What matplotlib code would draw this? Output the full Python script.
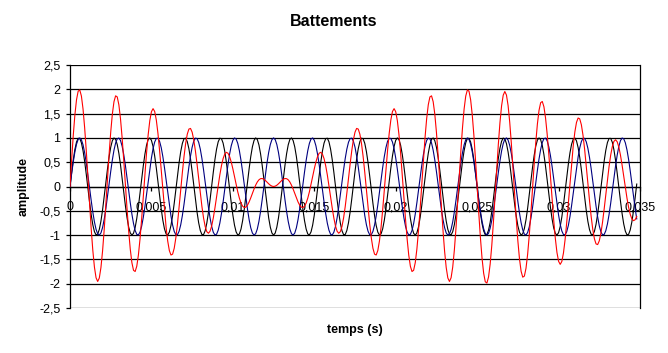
import numpy as np
import matplotlib
matplotlib.use('Agg')
import matplotlib.pyplot as plt
from matplotlib.ticker import FuncFormatter, MultipleLocator

plt.rcParams['font.family'] = ['Liberation Sans', 'DejaVu Sans']

# Signal parameters (two sines and their sum -> beats)
f_noir = 460.0     # Hz, black curve
f_bleu = 420.0     # Hz, blue curve
pas = 0.0001       # sampling step (s)
t_fin = 0.0348     # last sample (s)

x_ticks = [0, 0.005, 0.01, 0.015, 0.02, 0.025, 0.03, 0.035]
x_labels = ['0', '0,005', '0,01', '0,015', '0,02', '0,025', '0,03', '0,035']

t = np.arange(0, t_fin + pas / 2, pas)
y_noir = np.sin(2 * np.pi * f_noir * t)
y_bleu = np.sin(2 * np.pi * f_bleu * t)
y_somme = y_noir + y_bleu

W, H = 668, 353
fig = plt.figure(figsize=(W / 100, H / 100), dpi=100)
ax = fig.add_axes([70 / W, 1 - 308 / H, 570 / W, 243 / H])

ax.plot(t, y_noir, color='black', lw=0.8, zorder=3)
ax.plot(t, y_bleu, color='#000080', lw=0.8, zorder=3)
ax.plot(t, y_somme, color='#ff0000', lw=0.8, zorder=4)

ax.set_xlim(0, 0.035)
ax.set_ylim(-2.5, 2.5)
ax.yaxis.set_major_locator(MultipleLocator(0.5))
ax.yaxis.set_major_formatter(FuncFormatter(lambda v, p: ('%g' % v).replace('.', ',')))
ax.set_xticks(x_ticks)
ax.set_xticklabels(x_labels)

ax.grid(axis='y', color='black', lw=0.9)
ax.set_axisbelow(True)

for s in ['top', 'bottom']:
    ax.spines[s].set_visible(False)
ax.spines['left'].set_linewidth(0.9)
ax.spines['right'].set_linewidth(0.9)

ax.tick_params(axis='y', direction='out', length=3, width=0.9, pad=4, labelsize=9)
ax.tick_params(axis='x', direction='out', length=3, width=0.9, pad=7.5, labelsize=9)
# x axis crosses at y = 0, labels drawn along it
ax.spines['bottom'].set_visible(True)
ax.spines['bottom'].set_position(('data', 0))
ax.spines['bottom'].set_linewidth(0.9)

fig.text(0.5, 1 - 22 / H, 'Battements', ha='center', va='center',
         fontsize=11.5, fontweight='bold')
fig.text(355 / W, 1 - 330 / H, 'temps (s)', ha='center', va='center',
         fontsize=9, fontweight='bold')
fig.text(24 / W, 1 - 186.5 / H, 'amplitude', ha='center', va='center',
         rotation=90, fontsize=9, fontweight='bold')

fig.savefig('out.png', dpi=100)
